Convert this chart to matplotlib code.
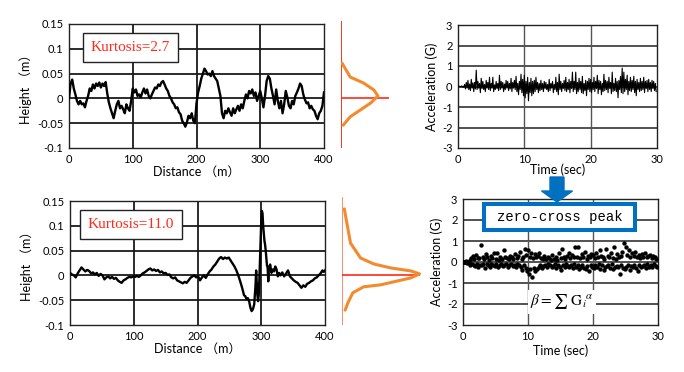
import matplotlib
matplotlib.use('agg')
import matplotlib.pyplot as plt
from matplotlib.patches import Rectangle, FancyArrow
import numpy as np

# ---------------------------------------------------------------- data
# road profile, kurtosis 2.7 (sampled every 2.5 m, 0..400 m)
height_a = [0.0, 0.03, 0.038, 0.02, 0.008, -0.005, -0.012, -0.005, -0.012, -0.01,
            -0.018, -0.005, 0.005, 0.02, 0.015, 0.028, 0.02, 0.03, 0.025, 0.032,
            0.022, 0.03, 0.025, 0.033, 0.01, -0.008, -0.02, -0.03, -0.04, -0.025,
            -0.012, -0.005, -0.02, -0.015, -0.022, -0.03, -0.012, -0.02, -0.025, -0.005,
            0.02, 0.012, 0.018, 0.005, 0.008, 0.002, 0.012, 0.02, 0.01, 0.018,
            0.005, 0.0, 0.008, 0.015, 0.022, 0.02, 0.028, 0.025, 0.032, 0.035,
            0.028, 0.02, 0.015, 0.005, 0.0, -0.008, -0.012, -0.02, -0.018, -0.028,
            -0.032, -0.045, -0.05, -0.057, -0.048, -0.035, -0.04, -0.03, -0.045, -0.05,
            -0.01, 0.012, 0.025, 0.04, 0.05, 0.06, 0.055, 0.048, 0.05, 0.045,
            0.055, 0.045, 0.04, 0.035, 0.02, 0.005, -0.03, -0.04, -0.025, -0.03,
            -0.02, -0.028, -0.035, -0.02, -0.03, -0.022, -0.015, -0.025, -0.012, -0.02,
            -0.005, 0.008, 0.0, 0.015, 0.01, 0.018, 0.005, 0.012, -0.005, 0.005,
            0.015, 0.0, -0.018, 0.005, 0.035, 0.045, 0.04, 0.02, 0.005, -0.012,
            0.018, -0.005, -0.02, -0.005, -0.03, -0.012, 0.015, 0.002, -0.015, -0.02,
            -0.005, -0.012, 0.005, 0.012, 0.02, 0.03, 0.025, 0.008, -0.002, -0.01,
            -0.008, -0.02, -0.015, -0.022, -0.025, -0.035, -0.042, -0.03, -0.025, -0.015,
            0.012]
dist_a = np.arange(len(height_a)) * 2.5

# road profile, kurtosis 11.0
dist_b = [0, 3, 6, 9, 12, 15, 18, 21, 24, 27, 30, 33, 36, 39, 42, 45, 48, 51, 54, 57,
          60, 63, 66, 69, 72, 75, 78, 81, 84, 87, 90, 93, 96, 99, 102, 105, 108, 111, 114, 117,
          120, 123, 126, 129, 132, 135, 138, 141, 144, 147, 150, 153, 156, 159, 162, 165, 168, 171, 174, 177,
          180, 183, 186, 189, 192, 195, 198, 201, 204, 207, 210, 213, 216, 219, 222, 225, 228, 231, 234, 237,
          240, 243, 246, 249, 252, 255, 258, 261, 264, 267, 270, 273, 275, 277, 279, 281, 283, 285, 287, 289,
          290, 291, 292, 293, 294, 295, 296, 297, 298, 299, 300, 301, 302, 303, 304, 305, 306, 307, 308, 309,
          310, 311, 312, 314, 316, 318, 320, 322, 324, 326, 328, 330, 333, 336, 339, 342, 345, 348, 351, 354,
          357, 360, 363, 366, 369, 372, 375, 378, 381, 384, 387, 390, 393, 396, 398, 400]
height_b = [0.005, 0.002, 0.0, -0.004, 0.004, 0.01, 0.016, 0.012, 0.008, 0.011,
            0.009, 0.004, 0.006, 0.002, 0.005, -0.001, 0.003, 0.0, -0.008, -0.004,
            -0.002, -0.006, -0.003, -0.007, -0.005, -0.01, -0.013, -0.015, -0.01, -0.008,
            -0.005, -0.003, -0.004, -0.002, -0.003, -0.001, -0.003, 0.0, 0.004, 0.006,
            0.009, 0.012, 0.014, 0.01, 0.012, 0.009, 0.011, 0.006, 0.008, 0.004,
            0.005, 0.001, 0.002, -0.004, -0.006, -0.004, -0.01, -0.012, -0.014, -0.016,
            -0.013, -0.015, -0.01, -0.005, -0.002, 0.0, -0.004, -0.002, -0.01, -0.004,
            0.0, -0.005, 0.002, 0.008, 0.012, 0.018, 0.022, 0.028, 0.034, 0.037,
            0.033, 0.036, 0.034, 0.036, 0.03, 0.024, 0.018, 0.01, 0.0, -0.012,
            -0.025, -0.04, -0.042, -0.048, -0.046, -0.052, -0.065, -0.072, -0.068, -0.058,
            -0.04, -0.02, 0.01, -0.015, -0.04, -0.052, -0.04, -0.01, 0.03, 0.07,
            0.11, 0.13, 0.125, 0.1, 0.085, 0.07, 0.062, 0.05, 0.035, 0.02,
            0.016, -0.012, 0.015, 0.022, 0.005, 0.012, 0.008, 0.018, 0.012, -0.002,
            0.005, 0.0, 0.006, -0.002, 0.004, 0.01, -0.002, -0.006, -0.01, -0.013,
            -0.015, -0.02, -0.025, -0.02, -0.023, -0.017, -0.015, -0.012, -0.01, -0.006,
            -0.004, 0.0, 0.004, 0.01, 0.007, 0.01]

# height distributions (relative frequency) drawn beside each profile
dist_h_a = [0.071, 0.043, 0.031, 0.017, 0.005, -0.009, -0.023, -0.037, -0.054]
freq_a = [0.03, 0.25, 0.61, 0.89, 1.0, 0.81, 0.53, 0.25, 0.06]
dist_h_b = [0.134, 0.065, 0.035, 0.023, 0.015, 0.009, 0.003, -0.005, -0.019, -0.023, -0.035, -0.054, -0.07]
freq_b = [0.03, 0.11, 0.24, 0.41, 0.63, 0.89, 1.0, 0.89, 0.5, 0.28, 0.14, 0.08, 0.04]

# vertical acceleration, sampled every 0.125 s
accel = [0.0, 0.02, 0.0, -0.02, 0.03, -0.03, 0.02, -0.05, 0.1, -0.12,
         0.2, -0.08, 0.3, -0.15, 0.12, -0.2, 0.35, -0.08, 0.18, -0.25,
         0.2, -0.12, 0.8, -0.15, 0.25, -0.08, 0.15, -0.3, 0.4, -0.1,
         0.25, -0.15, 0.1, -0.25, 0.3, -0.08, 0.2, -0.15, 0.45, -0.2,
         0.15, -0.08, 0.45, -0.25, 0.08, -0.15, 0.25, -0.1, 0.15, -0.2,
         0.55, -0.15, 0.25, -0.08, 0.2, -0.25, 0.12, -0.15, 0.3, -0.08,
         0.25, -0.2, 0.15, -0.12, 0.4, -0.25, 0.2, -0.08, 0.3, -0.15,
         0.5, -0.25, 0.15, -0.4, 0.25, -0.15, 0.6, -0.3, 0.35, -0.45,
         0.55, -0.55, 0.25, -0.35, 0.45, -0.7, 0.2, -0.3, 0.4, -0.45,
         0.25, -0.35, 0.3, -0.25, 0.45, -0.15, 0.2, -0.3, 0.15, -0.2,
         0.3, -0.15, 0.15, -0.25, 0.25, -0.1, 0.2, -0.15, 0.1, -0.25,
         0.35, -0.2, 0.15, -0.08, 0.25, -0.3, 0.1, -0.15, 0.45, -0.25,
         0.2, -0.4, 0.6, -0.15, 0.25, -0.25, 0.15, -0.1, 0.3, -0.2,
         0.45, -0.25, 0.2, -0.15, 0.35, -0.3, 0.25, -0.1, 0.7, -0.25,
         0.25, -0.15, 0.7, -0.35, 0.2, -0.25, 0.4, -0.15, 0.25, -0.3,
         0.5, -0.35, 0.15, -0.2, 0.3, -0.45, 0.25, -0.15, 0.4, -0.25,
         0.35, -0.3, 0.2, -0.15, 0.45, -0.25, 0.25, -0.1, 0.55, -0.35,
         0.3, -0.15, 0.25, -0.4, 0.15, -0.25, 0.6, -0.2, 0.3, -0.15,
         0.25, -0.3, 0.45, -0.1, 0.2, -0.35, 0.7, -0.25, 0.15, -0.2,
         0.4, -0.25, 0.25, -0.55, 0.3, -0.15, 0.5, -0.3, 0.9, -0.35,
         0.7, -0.25, 0.35, -0.15, 0.55, -0.4, 0.25, -0.2, 0.45, -0.25,
         0.3, -0.15, 0.5, -0.3, 0.25, -0.45, 0.35, -0.15, 0.2, -0.25,
         0.4, -0.2, 0.25, -0.15, 0.45, -0.3, 0.25, -0.1, 0.3, -0.25,
         0.35, -0.15, 0.2, -0.25, 0.3, -0.1, 0.25, -0.2, 0.15, -0.25]
time = np.arange(len(accel)) * 0.125

# zero-cross peaks: largest |a| between two sign changes
sign = np.sign(accel)
peak_t, peak_a = [], []
start = 0
for i in range(1, len(accel) + 1):
  if i == len(accel) or sign[i] != sign[start]:
    seg = np.abs(accel[start:i])
    k = start + int(np.argmax(seg))
    peak_t.append(time[k])
    peak_a.append(accel[k])
    start = i

# ---------------------------------------------------------------- figure
plt.rcParams['axes.unicode_minus'] = False
plt.rcParams['mathtext.fontset'] = 'stix'
W, H = 684.0, 372.0
fig = plt.figure(figsize=(6.84, 3.72), dpi=100)

def rect(x0, y0, x1, y1):
  # pixel box (top-left origin) -> figure fraction
  return [x0 / W, 1 - y1 / H, (x1 - x0) / W, (y1 - y0) / H]

lab_font = ['Lato', 'Noto Sans CJK JP']
tick_font = 'Lato'

def style(ax, hcolor, vcolor, hlw, vlw):
  ax.tick_params(length=0, labelsize=8, pad=4)
  for lbl in ax.get_xticklabels() + ax.get_yticklabels():
    lbl.set_fontfamily(tick_font)
  for s in ax.spines.values():
    s.set_linewidth(1.0)
    s.set_color('#222222')
  ax.grid(False)
  for yv in ax.get_yticks()[1:-1]:
    ax.axhline(yv, color=hcolor, lw=hlw, zorder=1)
  for xv in ax.get_xticks()[1:-1]:
    ax.axvline(xv, color=vcolor, lw=vlw, zorder=1)

def profile_panel(box, x, y, label):
  ax = fig.add_axes(rect(*box))
  ax.plot(x, y, color='black', lw=1.7, zorder=3)
  ax.set_xlim(0, 400)
  ax.set_ylim(-0.1, 0.15)
  ax.set_xticks([0, 100, 200, 300, 400])
  ax.set_yticks([-0.1, -0.05, 0, 0.05, 0.1, 0.15])
  ax.set_yticklabels(['-0.1', '-0.05', '0', '0.05', '0.1', '0.15'])
  style(ax, '#1a1a1a', '#1a1a1a', 1.3, 1.3)
  ax.set_xlabel('Distance （m）', family=lab_font, fontsize=9, labelpad=1)
  ax.set_ylabel('Height （m）', family=lab_font, fontsize=9, labelpad=4)
  ax.text(0.24, 0.81, label, transform=ax.transAxes, ha='center', va='center',
          color='#FF2A1A', family='Liberation Serif', fontsize=11, zorder=5,
          bbox=dict(boxstyle='square,pad=0.5', fc='white', ec='#222222', lw=1.0))
  return ax

def side_panel(box, top, h, f, xmax, vcolor, hline_end):
  ax = fig.add_axes(rect(*box))
  ax.set_xlim(0, xmax)
  ax.set_ylim(-0.1, top)
  ax.axis('off')
  ax.axvline(0, color=vcolor, lw=1.4)
  ax.plot([0, hline_end], [0, 0], color='#FF2A1A', lw=1.2, zorder=2)
  ax.plot(f, h, color='#F28A30', lw=2.2, zorder=3, solid_capstyle='round')

profile_panel((69, 24, 324, 148), dist_a, height_a, 'Kurtosis=2.7')
side_panel((341, 21, 389, 148), 0.156, dist_h_a, freq_a, 1.3, '#F03A28', 1.3)
profile_panel((70, 201, 325, 325), dist_b, height_b, 'Kurtosis=11.0')
side_panel((342, 197, 421, 325), 0.158, dist_h_b, freq_b, 1.02, '#F4906E', 1.0)

def accel_panel(box, pad):
  ax = fig.add_axes(rect(*box))
  ax.set_xlim(0, 30)
  ax.set_ylim(-3, 3)
  ax.set_xticks([0, 10, 20, 30])
  ax.set_yticks([-3, -2, -1, 0, 1, 2, 3])
  style(ax, '#333333', '#555555', 1.2, 1.0)
  ax.set_xlabel('Time (sec)', family=tick_font, fontsize=9, labelpad=pad)
  ax.set_ylabel('Acceleration (G)', family=tick_font, fontsize=9, labelpad=3)
  return ax

ax_tr = accel_panel((458, 25, 657, 148), -1)
ax_tr.plot(time, accel, color='black', lw=0.8, zorder=3)

ax_br = accel_panel((463, 199, 658, 325), 2)
ax_br.scatter(peak_t, peak_a, s=10, color='black', zorder=3, linewidths=0)
ax_br.text(15.2, -1.9, r'$\beta = \sum\ \mathrm{G}_i{}^{\alpha}$', ha='center', va='center',
           fontsize=11, zorder=4, bbox=dict(boxstyle='square,pad=0.15', fc='white', ec='none'))

# arrow and label box linking the two acceleration panels
blue = '#0070C0'
fig.patches.append(FancyArrow(557 / W, 1 - 177 / H, 0, -(25 / H), width=14 / W,
                              head_width=31 / W, head_length=11 / H,
                              length_includes_head=True, color=blue,
                              transform=fig.transFigure, figure=fig))
x0, y0, x1, y1 = 484 / W, 1 - 230 / H, 635 / W, 1 - 204 / H
fig.patches.append(Rectangle((x0, y0), x1 - x0, y1 - y0, fc='white', ec=blue, lw=2.9,
                             transform=fig.transFigure, figure=fig, zorder=5))
fig.text((x0 + x1) / 2, (y0 + y1) / 2, 'zero-cross peak', ha='center', va='center',
         family='Liberation Mono', fontsize=10, zorder=6)

fig.savefig('out.png', dpi=100)
